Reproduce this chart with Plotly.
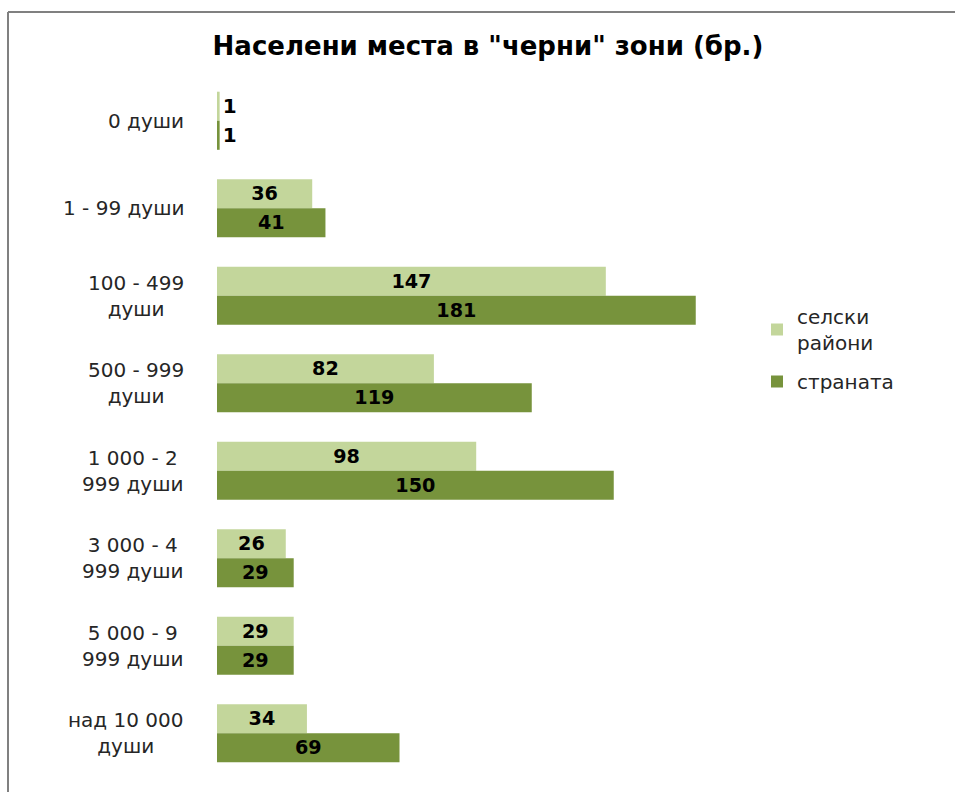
import plotly.graph_objects as go

categories = ["0 души", "1 - 99 души", "100 - 499<br>души", "500 - 999<br>души",
              "1 000 - 2<br>999 души", "3 000 - 4<br>999 души", "5 000 - 9<br>999 души",
              "над 10 000<br>души"]
rural = [1, 36, 147, 82, 98, 26, 29, 34]
country = [1, 41, 181, 119, 150, 29, 29, 69]
series_names = ["селски<br>райони", "страната"]
title_text = 'Населени места в "черни" зони (бр.)'

LIGHT = "#C3D69B"
DARK = "#77933C"
FONT = "DejaVu Sans"

fig = go.Figure()
for vals, name, col, grp in [(rural, series_names[0], LIGHT, "g1"),
                             (country, series_names[1], DARK, "g2")]:
    fig.add_trace(go.Bar(y=list(range(len(categories))), x=vals, orientation="h",
                         name=name, legendgroup=grp,
                         marker=dict(color=col, line=dict(width=0)),
                         text=vals, textposition="auto", insidetextanchor="middle",
                         textfont=dict(family=FONT, size=20, color="black", weight="bold"),
                         cliponaxis=False))

L, R, T, B = 217, 209, 77, 15
W, H = 955, 792
pw = W - L - R
ph = H - T - B

for i, c in enumerate(categories):
    fig.add_annotation(x=(186 - L) / pw, xref="paper", y=i, yref="y", text=c,
                       xanchor="right", yanchor="middle", align="center", showarrow=False,
                       font=dict(family=FONT, size=20, color="#262626"))

fig.update_layout(
    width=W, height=H,
    margin=dict(l=L, r=R, t=T, b=B),
    paper_bgcolor="white", plot_bgcolor="white",
    barmode="group", bargap=0.336, bargroupgap=0,
    title=dict(text=title_text, x=0.511, xanchor="center", y=1 - 46 / H, yanchor="middle",
               font=dict(family=FONT, size=26, color="black", weight="bold")),
    xaxis=dict(range=[0, 200], visible=False),
    yaxis=dict(range=[len(categories) - 0.5, -0.5], visible=False),
    legend=dict(x=(757 - L) / pw, y=1 - (297 - T) / ph, xanchor="left", yanchor="top",
                traceorder="grouped", font=dict(family=FONT, size=20, color="#262626"),
                itemwidth=30, tracegroupgap=10, bgcolor="rgba(0,0,0,0)"),
    showlegend=True,
    shapes=[
        dict(type="line", xref="paper", yref="paper", x0=(8 - L) / pw, x1=(W - L) / pw,
             y0=1 + (T - 12) / ph, y1=1 + (T - 12) / ph,
             line=dict(color="#808080", width=2)),
        dict(type="line", xref="paper", yref="paper", x0=(8 - L) / pw, x1=(8 - L) / pw,
             y0=-B / ph, y1=1 + (T - 12) / ph,
             line=dict(color="#808080", width=2)),
    ],
)
fig.write_html("out.html", config={"displayModeBar": False},
               post_script="document.body.style.margin='0';document.body.style.overflow='hidden';")
